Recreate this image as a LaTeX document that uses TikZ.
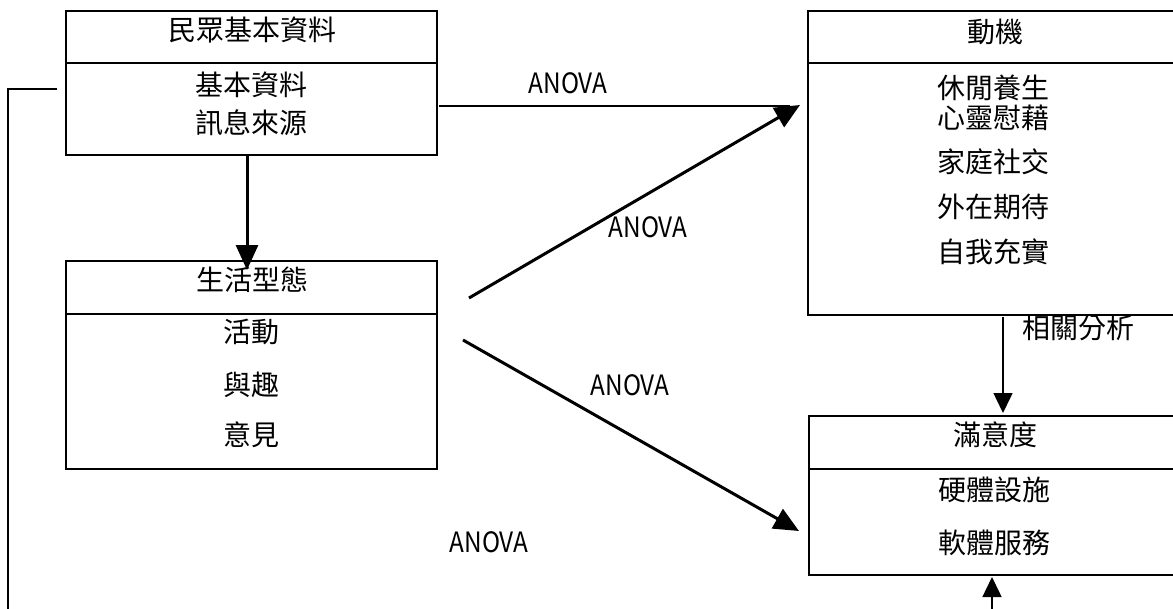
\documentclass[tikz,border=0pt]{standalone}
\usepackage{fontspec}
\usepackage{graphicx}
\setmainfont{Noto Sans CJK TC}
\usetikzlibrary{arrows.meta}
\tikzset{
  part/.style={draw=black, line width=2.7pt, rectangle, inner sep=0pt},
  cjk/.style={font=\fontsize{28}{30}\selectfont, inner sep=0pt, anchor=center},
  lbl/.style={font=\fontsize{28}{30}\selectfont, inner sep=0pt, anchor=center},
  thickarrow/.style={line width=3pt, -{Triangle[length=25pt, width=22pt]}},
  thinline/.style={line width=1.5pt},
  thinarrow/.style={line width=1.5pt, -{Triangle[length=20pt, width=19pt]}},
}
\newcommand{\anova}{\scalebox{0.87}[1]{ANOVA}}
\begin{document}
\begin{tikzpicture}[x=1pt, y=-1pt]
\useasboundingbox (0,0) rectangle (1173,608);
\clip (0,0) rectangle (1173,608);
% boxes: 民眾基本資料
\node[part, minimum width=371pt, minimum height=52pt] (b1t) at (251.5,37) {};
\node[part, minimum width=371pt, minimum height=92pt] (b1b) at (251.5,109) {};
% 生活型態
\node[part, minimum width=371pt, minimum height=53pt] (b2t) at (251.5,287.5) {};
\node[part, minimum width=371pt, minimum height=155pt] (b2b) at (251.5,391.5) {};
% 動機
\node[part, minimum width=392pt, minimum height=52pt] (mt) at (1004,37) {};
\node[part, minimum width=392pt, minimum height=252pt] (mb) at (1004,189) {};
% 滿意度
\node[part, minimum width=391pt, minimum height=53pt] (st) at (1004.5,442.5) {};
\node[part, minimum width=391pt, minimum height=106pt] (sb) at (1004.5,522) {};

% texts
\node[cjk] (t1) at (252,30) {民眾基本資料};
\node[cjk] (t1a) at (251,85) {基本資料};
\node[cjk] (t1b) at (251,123) {訊息來源};
\node[cjk] (t2) at (252,280) {生活型態};
\node[cjk] (t2a) at (251,332) {活動};
\node[cjk] (t2b) at (251,385) {與趣};
\node[cjk] (t2c) at (251,435) {意見};
\node[cjk] (t3) at (995,32) {動機};
\node[cjk] (t3a) at (993,88) {休閒養生};
\node[cjk] (t3b) at (993,118) {心靈慰藉};
\node[cjk] (t3c) at (993,162) {家庭社交};
\node[cjk] (t3d) at (993,207) {外在期待};
\node[cjk] (t3e) at (993,252) {自我充實};
\node[cjk] (t4) at (995,435) {滿意度};
\node[cjk] (t4a) at (994,490) {硬體設施};
\node[cjk] (t4b) at (994,543) {軟體服務};

% labels
\node[lbl] (l1) at (568,83) {\anova};
\node[lbl] (l2) at (648,227) {\anova};
\node[lbl] (l3) at (630,385) {\anova};
\node[lbl] (l4) at (489,542) {\anova};
\node[cjk] (l5) at (1078,328) {相關分析};

% connector coordinates
\coordinate (hA) at (439,106);
\coordinate (hB) at (790,106);
\coordinate (d1A) at (469,298);
\coordinate (d1B) at (800,105);
\coordinate (d2A) at (463,340);
\coordinate (d2B) at (799,531);
\coordinate (vA) at (247,156);
\coordinate (vB) at (247,270);
\coordinate (cA) at (1003,317);
\coordinate (cB) at (1003,413);
\coordinate (fbA) at (57,89);
\coordinate (fbC) at (8,89);
\coordinate (fbD) at (8,610);
\coordinate (upA) at (992,610);
\coordinate (upB) at (992,577);

% connectors
\draw[thinline] (hA) -- (hB);
\draw[thickarrow] (d1A) -- (d1B);
\draw[thickarrow] (d2A) -- (d2B);
\draw[thickarrow] (vA) -- (vB);
\draw[thinarrow] (cA) -- (cB);
\draw[thinline] (fbA) -- (fbC) -- (fbD);
\draw[thinarrow] (upA) -- (upB);
\end{tikzpicture}
\end{document}
